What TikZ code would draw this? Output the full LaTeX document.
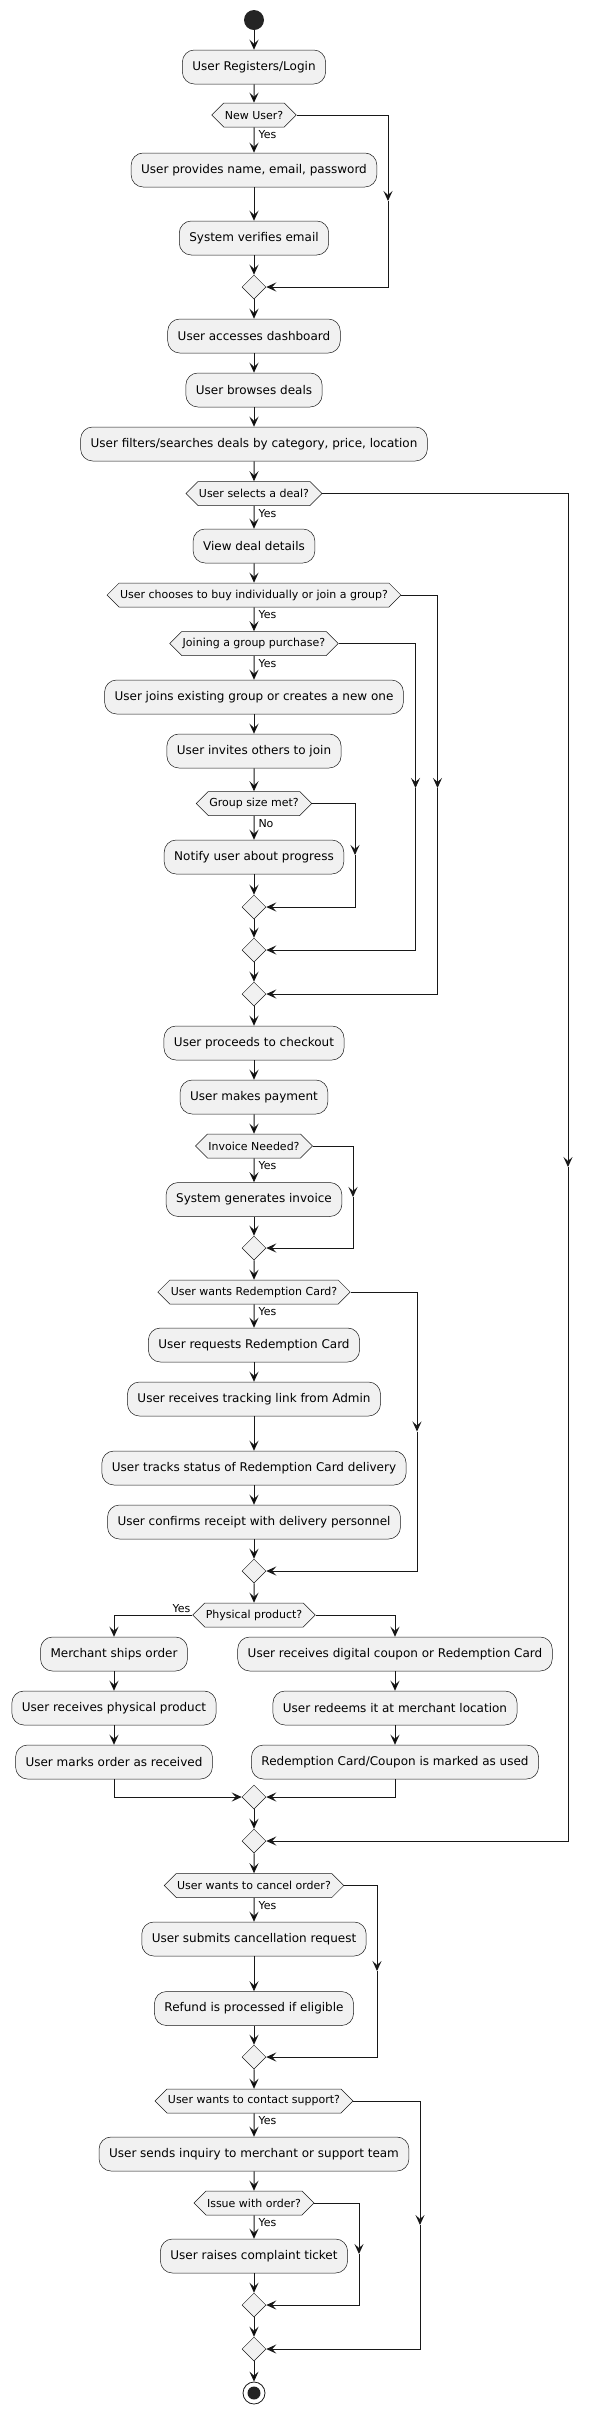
\documentclass[tikz,border=0pt]{standalone}
\usepackage{fontspec}
\setmainfont{DejaVu Sans}
\usetikzlibrary{arrows.meta,shapes.geometric,shapes.symbols}
\definecolor{actfill}{HTML}{F1F1F1}
\definecolor{actline}{HTML}{181818}

\begin{document}
\begin{tikzpicture}[x=1pt,y=-1pt,
    >={Stealth[length=10pt,width=9pt,inset=4pt]},
    flow/.style={->,draw=actline,line width=1pt},
    activity/.style={draw=actline,line width=0.5pt,fill=actfill,rounded corners=12pt,
                     minimum height=34pt,inner xsep=10pt,inner ysep=0pt,
                     font=\fontsize{12}{14}\selectfont},
    decision/.style={signal,signal to=east and west,signal pointer angle=90,
                     draw=actline,line width=0.5pt,fill=actfill,minimum height=24pt,
                     inner xsep=1pt,inner ysep=0pt,font=\fontsize{11}{13}\selectfont},
    merge/.style={diamond,draw=actline,line width=0.5pt,fill=actfill,
                  minimum width=24pt,minimum height=24pt,inner sep=0pt},
    yes/.style={pos=0,anchor=north west,inner sep=0pt,xshift=4pt,yshift=-3pt,
                font=\fontsize{11}{13}\selectfont}]

  \useasboundingbox (0,0) rectangle (590,2413);

  % main column
  \node[circle,fill=actline!95,minimum size=20pt,inner sep=0pt] (start) at (254,20) {};
  \node[activity] (reg)      at (254,67)     {User Registers/Login};
  \node[decision] (newu)     at (254,115)    {New User?};
  \node[activity] (prov)     at (254,170)    {User provides name, email, password};
  \node[activity] (verif)    at (254,238)    {System verifies email};
  \node[merge]    (m1)       at (254,287)    {};
  \node[activity] (dash)     at (254,336)    {User accesses dashboard};
  \node[activity] (browse)   at (254,390)    {User browses deals};
  \node[activity] (filt)     at (254,444)    {User filters/searches deals by category, price, location};
  \node[decision] (sel)      at (254,493.5)  {User selects a deal?};
  \node[activity] (view)     at (254,546)    {View deal details};
  \node[decision] (choose)   at (254,595)    {User chooses to buy individually or join a group?};
  \node[decision] (joinq)    at (254,643.5)  {Joining a group purchase?};
  \node[activity] (joinbox)  at (254,697)    {User joins existing group or creates a new one};
  \node[activity] (invite)   at (254,751)    {User invites others to join};
  \node[decision] (gsize)    at (254,803.5)  {Group size met?};
  \node[activity] (notify)   at (254,857)    {Notify user about progress};
  \node[merge]    (m2)       at (254,907)    {};
  \node[merge]    (m3)       at (254,950)    {};
  \node[merge]    (m4)       at (254,994)    {};
  \node[activity] (checkout) at (254,1043)   {User proceeds to checkout};
  \node[activity] (pay)      at (254,1097)   {User makes payment};
  \node[decision] (invq)     at (254,1146)   {Invoice Needed?};
  \node[activity] (geninv)   at (254,1199.5) {System generates invoice};
  \node[merge]    (m5)       at (254,1248)   {};
  \node[decision] (rcq)      at (254,1292)   {User wants Redemption Card?};
  \node[activity] (req)      at (254,1345)   {User requests Redemption Card};
  \node[activity] (link)     at (254,1399)   {User receives tracking link from Admin};
  \node[activity] (status)   at (254,1468)   {User tracks status of Redemption Card delivery};
  \node[activity] (confirm)  at (254,1522)   {User confirms receipt with delivery personnel};
  \node[merge]    (m6)       at (254,1571)   {};
  \node[decision] (physq)    at (254,1615)   {Physical product?};

  % physical / digital branches
  \node[activity] (ship)     at (114,1654)   {Merchant ships order};
  \node[activity] (recv)     at (114,1708)   {User receives physical product};
  \node[activity] (marks)    at (114,1762)   {User marks order as received};
  \node[activity] (digital)  at (395,1654)   {User receives digital coupon or Redemption Card};
  \node[activity] (redeem)   at (395,1708)   {User redeems it at merchant location};
  \node[activity] (used)     at (395,1762)   {Redemption Card/Coupon is marked as used};

  \node[merge]    (m7)       at (254,1797)   {};
  \node[merge]    (m8)       at (254,1841)   {};
  \node[decision] (cancelq)  at (254,1885.5) {User wants to cancel order?};
  \node[activity] (submit)   at (254,1939)   {User submits cancellation request};
  \node[activity] (refund)   at (254,2008.5) {Refund is processed if eligible};
  \node[merge]    (m9)       at (254,2057)   {};
  \node[decision] (supportq) at (254,2101)   {User wants to contact support?};
  \node[activity] (inquiry)  at (254,2154)   {User sends inquiry to merchant or support team};
  \node[decision] (issueq)   at (254,2203)   {Issue with order?};
  \node[activity] (complaint)at (254,2256)   {User raises complaint ticket};
  \node[merge]    (m10)      at (254,2305)   {};
  \node[merge]    (m11)      at (254,2349)   {};
  \node[circle,draw=actline,line width=0.8pt,fill=white,minimum size=22pt,inner sep=0pt] (stop) at (254,2393) {};
  \fill[actline!95] (stop.center) circle (6.5);

  \path[flow] (start)    edge (reg)
              (reg)      edge (newu)
              (newu)     edge node[yes] {Yes} (prov)
              (prov)     edge (verif)
              (verif)    edge (m1)
              (m1)       edge (dash)
              (dash)     edge (browse)
              (browse)   edge (filt)
              (filt)     edge (sel)
              (sel)      edge node[yes] {Yes} (view)
              (view)     edge (choose)
              (choose)   edge node[yes] {Yes} (joinq)
              (joinq)    edge node[yes] {Yes} (joinbox)
              (joinbox)  edge (invite)
              (invite)   edge (gsize)
              (gsize)    edge node[yes] {No} (notify)
              (notify)   edge (m2)
              (m2)       edge (m3)
              (m3)       edge (m4)
              (m4)       edge (checkout)
              (checkout) edge (pay)
              (pay)      edge (invq)
              (invq)     edge node[yes] {Yes} (geninv)
              (geninv)   edge (m5)
              (m5)       edge (rcq)
              (rcq)      edge node[yes] {Yes} (req)
              (req)      edge (link)
              (link)     edge (status)
              (status)   edge (confirm)
              (confirm)  edge (m6)
              (m6)       edge (physq)
              (ship)     edge (recv)
              (recv)     edge (marks)
              (digital)  edge (redeem)
              (redeem)   edge (used)
              (m7)       edge (m8)
              (m8)       edge (cancelq)
              (cancelq)  edge node[yes] {Yes} (submit)
              (submit)   edge (refund)
              (refund)   edge (m9)
              (m9)       edge (supportq)
              (supportq) edge node[yes] {Yes} (inquiry)
              (inquiry)  edge (issueq)
              (issueq)   edge node[yes] {Yes} (complaint)
              (complaint)edge (m10)
              (m10)      edge (m11)
              (m11)      edge (stop);

  % skipped branches, arrow halfway down
  \coordinate (b1)  at (388,201);
  \coordinate (b2)  at (568,1167);
  \coordinate (b3)  at (437.5,788);
  \coordinate (b4)  at (415.5,788);
  \coordinate (b5)  at (355,855);
  \coordinate (b6)  at (353,1197);
  \coordinate (b7)  at (417,1431.5);
  \coordinate (b8)  at (377,1971);
  \coordinate (b9)  at (420,2225);
  \coordinate (b10) at (359,2254);

  \draw[flow] (newu.east) -| (b1);      \draw[flow] (b1) |- (m1.east);
  \draw[flow] (sel.east) -| (b2);       \draw[flow] (b2) |- (m8.east);
  \draw[flow] (choose.east) -| (b3);    \draw[flow] (b3) |- (m4.east);
  \draw[flow] (joinq.east) -| (b4);     \draw[flow] (b4) |- (m3.east);
  \draw[flow] (gsize.east) -| (b5);     \draw[flow] (b5) |- (m2.east);
  \draw[flow] (invq.east) -| (b6);      \draw[flow] (b6) |- (m5.east);
  \draw[flow] (rcq.east) -| (b7);       \draw[flow] (b7) |- (m6.east);
  \draw[flow] (cancelq.east) -| (b8);   \draw[flow] (b8) |- (m9.east);
  \draw[flow] (supportq.east) -| (b9);  \draw[flow] (b9) |- (m11.east);
  \draw[flow] (issueq.east) -| (b10);   \draw[flow] (b10) |- (m10.east);

  \draw[flow] (physq.west) node[anchor=south east,inner sep=0pt,xshift=-1.5pt,yshift=1.5pt,
                                font=\fontsize{11}{13}\selectfont] {Yes} -| (ship.north);
  \draw[flow] (physq.east) -| (digital.north);
  \draw[flow] (marks.south) |- (m7.west);
  \draw[flow] (used.south) |- (m7.east);
\end{tikzpicture}
\end{document}
